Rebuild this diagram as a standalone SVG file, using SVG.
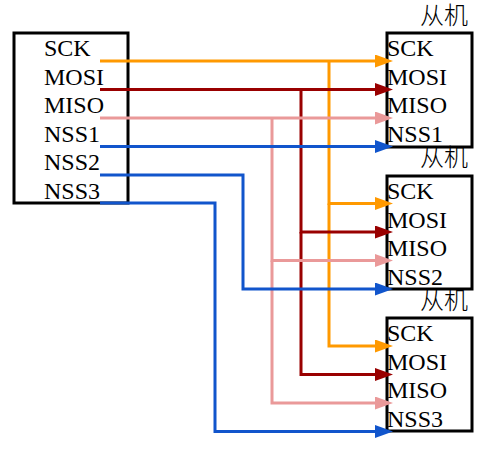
<svg xmlns="http://www.w3.org/2000/svg" width="485" height="451" viewBox="0 0 485 451">
<style>
.box{fill:#fff;stroke:#000;stroke-width:3}
.t{font-family:"Liberation Serif","Times New Roman",serif;font-size:24px;fill:#000}
.cj{font-family:"Noto Sans CJK SC",sans-serif;font-size:24px;font-weight:300;fill:#000}
.w{fill:none;stroke-width:3}
.o{stroke:#FF9900}.r{stroke:#990000}.p{stroke:#EA9999}.b{stroke:#1155CC}
</style>
<defs>
<marker id="ao" markerUnits="userSpaceOnUse" markerWidth="18" markerHeight="13" viewBox="0 0 18 13" refX="5" refY="6.5" orient="auto"><path d="M0,0 L18,6.5 L0,13 z" fill="#FF9900"/></marker>
<marker id="ar" markerUnits="userSpaceOnUse" markerWidth="18" markerHeight="13" viewBox="0 0 18 13" refX="5" refY="6.5" orient="auto"><path d="M0,0 L18,6.5 L0,13 z" fill="#990000"/></marker>
<marker id="ap" markerUnits="userSpaceOnUse" markerWidth="18" markerHeight="13" viewBox="0 0 18 13" refX="5" refY="6.5" orient="auto"><path d="M0,0 L18,6.5 L0,13 z" fill="#EA9999"/></marker>
<marker id="ab" markerUnits="userSpaceOnUse" markerWidth="18" markerHeight="13" viewBox="0 0 18 13" refX="5" refY="6.5" orient="auto"><path d="M0,0 L18,6.5 L0,13 z" fill="#1155CC"/></marker>
</defs>
<rect width="485" height="451" fill="#fff"/>
<g id="master">
<rect class="box" x="14" y="33" width="114" height="170"/>
<text class="t" x="44" y="56">SCK</text>
<text class="t" x="44" y="84.5">MOSI</text>
<text class="t" x="44" y="113">MISO</text>
<text class="t" x="44" y="141.5">NSS1</text>
<text class="t" x="44" y="170">NSS2</text>
<text class="t" x="44" y="198.5">NSS3</text>
</g>
<g id="slave1">
<text class="cj" x="420" y="24">从机</text>
<rect class="box" x="387" y="33" width="85" height="114"/>
<text class="t" x="387" y="56">SCK</text>
<text class="t" x="387" y="84.5">MOSI</text>
<text class="t" x="387" y="113">MISO</text>
<text class="t" x="387" y="141.5">NSS1</text>
</g>
<g id="slave2">
<text class="cj" x="420" y="166">从机</text>
<rect class="box" x="387" y="176" width="85" height="113"/>
<text class="t" x="387" y="199">SCK</text>
<text class="t" x="387" y="227.5">MOSI</text>
<text class="t" x="387" y="256">MISO</text>
<text class="t" x="387" y="284.5">NSS2</text>
</g>
<g id="slave3">
<text class="cj" x="420" y="309">从机</text>
<rect class="box" x="387" y="318" width="85" height="113"/>
<text class="t" x="387" y="341">SCK</text>
<text class="t" x="387" y="369.5">MOSI</text>
<text class="t" x="387" y="398">MISO</text>
<text class="t" x="387" y="426.5">NSS3</text>
</g>
<g id="connectors">
<path class="w o" d="M100,61 H380" marker-end="url(#ao)"/>
<path class="w o" d="M329,61 V203.5 H380" marker-end="url(#ao)"/>
<path class="w o" d="M329,203.5 V346 H380" marker-end="url(#ao)"/>
<path class="w r" d="M100,89.5 H380" marker-end="url(#ar)"/>
<path class="w r" d="M301,89.5 V232 H380" marker-end="url(#ar)"/>
<path class="w r" d="M301,232 V374.5 H380" marker-end="url(#ar)"/>
<path class="w p" d="M100,118 H380" marker-end="url(#ap)"/>
<path class="w p" d="M272,118 V260.5 H380" marker-end="url(#ap)"/>
<path class="w p" d="M272,260.5 V403 H380" marker-end="url(#ap)"/>
<path class="w b" d="M100,146.5 H380" marker-end="url(#ab)"/>
<path class="w b" d="M100,175 H243 V289 H380" marker-end="url(#ab)"/>
<path class="w b" d="M100,203 H215 V431.5 H380" marker-end="url(#ab)"/>
</g>
</svg>
